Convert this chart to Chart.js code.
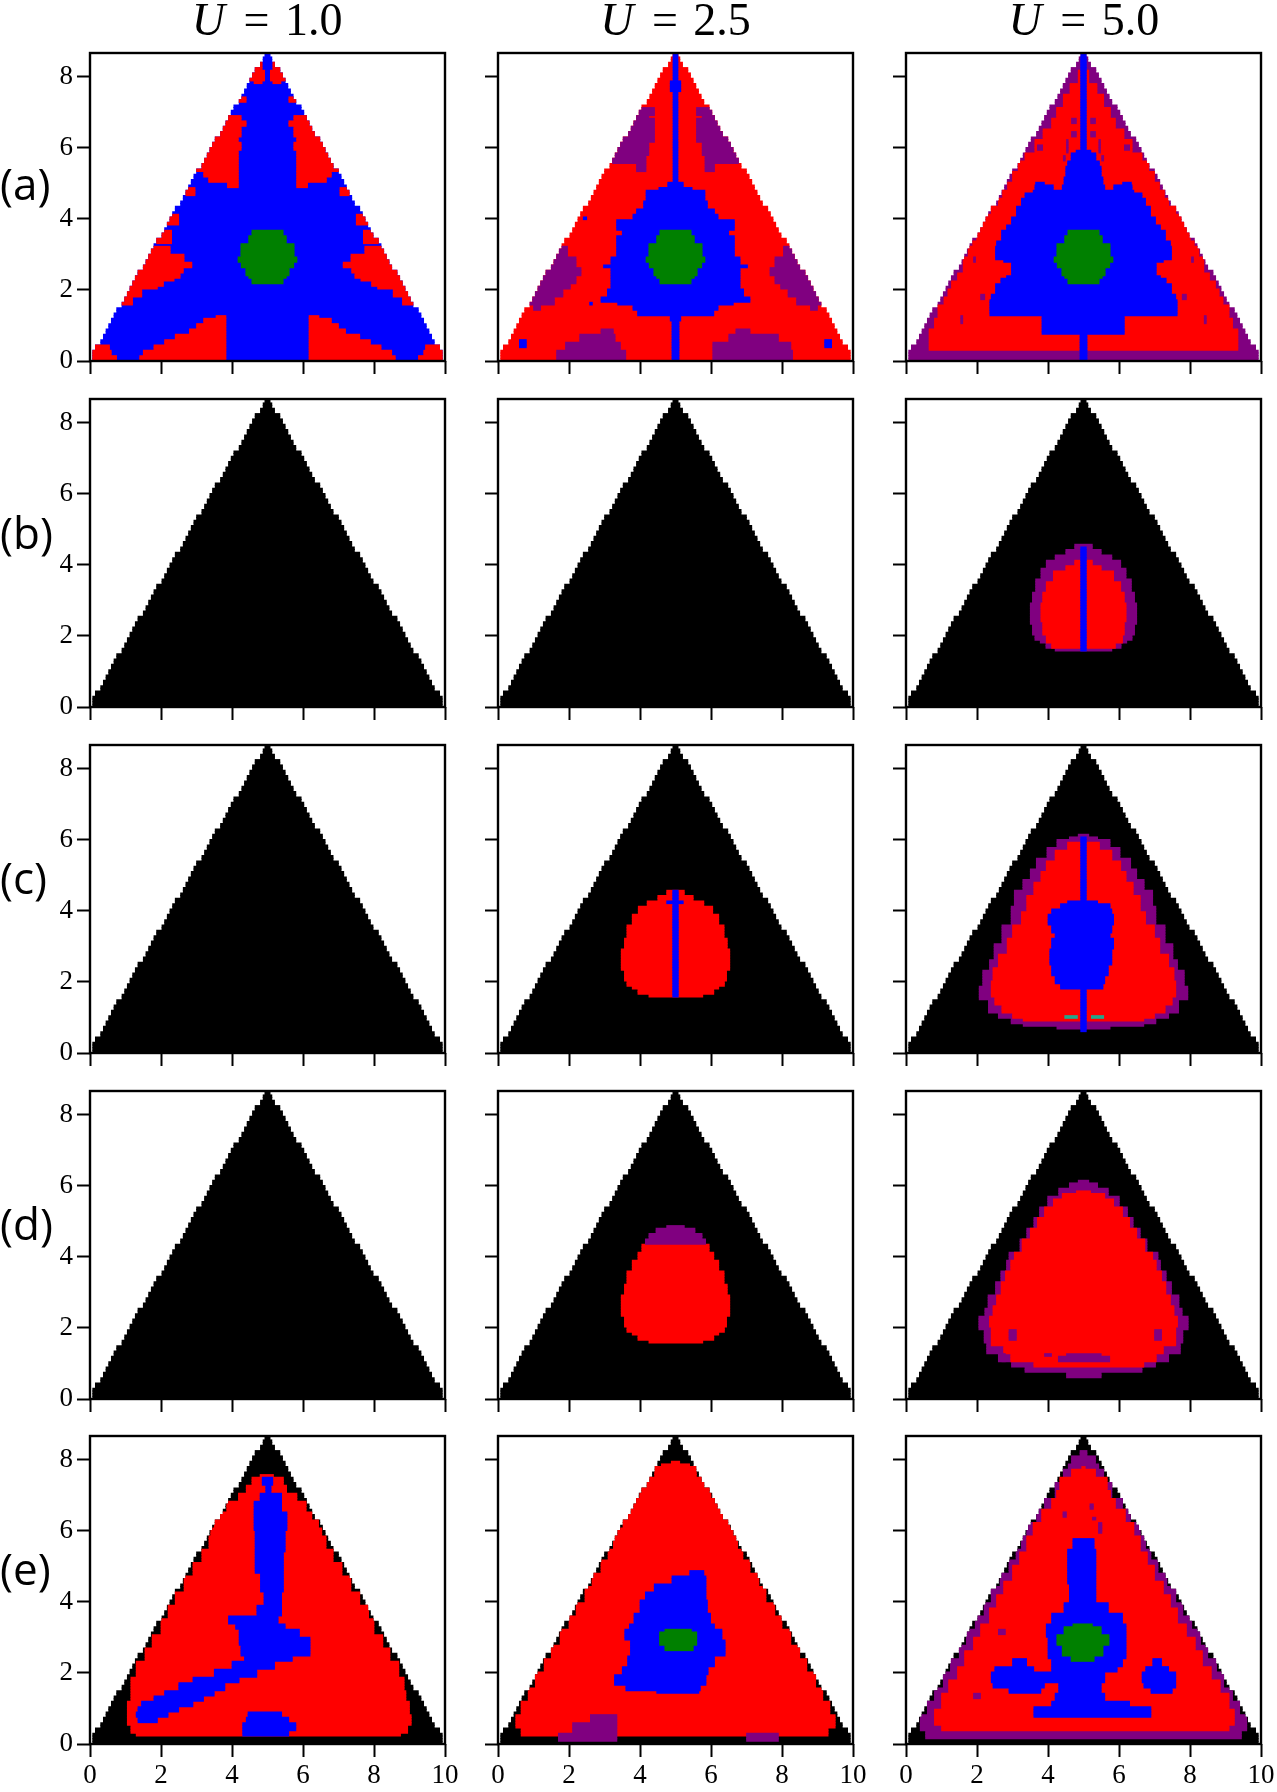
<!DOCTYPE html>
<html>
<head>
<meta charset="utf-8">
<title>Phase diagrams</title>
<script src="https://cdn.jsdelivr.net/npm/chart.js@4/dist/chart.umd.min.js"></script>
<style>
  body { margin: 0; background: #fff; width: 1277px; height: 1792px; position: relative; overflow: hidden; }
  canvas { position: absolute; }
  .title { position: absolute; top: -7px; width: 355px; text-align: center; font: 46px "Liberation Serif"; word-spacing: 4px; white-space: nowrap; }
  .title i { margin-right: 3px; }
  .row { position: absolute; left: 0; font: 44px "Open Sans"; line-height: 50px; }
</style>
</head>
<body>
<script>
/* Labels */
const columns = ["1.0", "2.5", "5.0"];
const rowNames = ["(a)", "(b)", "(c)", "(d)", "(e)"];
const xTicks = [0, 2, 4, 6, 8, 10];
const yTicks = [0, 2, 4, 6, 8];

/* left edge of the triangle for each 0.15 high row, right edge is 10 - left */
const triLeft = [
  0.075, 0.075, 0.15, 0.3, 0.375, 0.45, 0.525, 0.6, 0.675, 0.75, 0.9, 0.975, 1.05, 1.125, 1.2, 1.275,
  1.35, 1.5, 1.575, 1.65, 1.725, 1.8, 1.875, 2.025, 2.1, 2.175, 2.25, 2.325, 2.4, 2.55, 2.625, 2.7,
  2.775, 2.85, 2.925, 3.0, 3.15, 3.225, 3.3, 3.375, 3.45, 3.525, 3.675, 3.75, 3.825, 3.9, 3.975, 4.05,
  4.2, 4.275, 4.35, 4.425, 4.5, 4.575, 4.65, 4.8, 4.875, 4.925,
];

/* Regions: [y where the row starts, x0, x1, x0, x1, ...], a row holds until the next y */
const hexagon = [[2.21, 4.56, 5.44], [2.3, 4.47, 5.53], [2.38, 4.39, 5.61], [2.62, 4.26, 5.74], [2.76, 4.17, 5.83], [2.94, 4.25, 5.75], [3.27, 4.47, 5.53], [3.51, 4.56, 5.44], [3.65]];

const a1Red = [
  [0, 0, 0.75, 1.4, 3.83, 6.17, 8.6, 9.25, 10], [0.15, 0, 0.6, 1.5, 3.83, 6.17, 8.5, 9.4, 10], [0.3, 0, 0.55, 1.8, 3.83, 6.17, 8.2, 9.45, 10],
  [0.45, 2.1, 3.83, 6.17, 7.9], [0.6, 2.4, 3.83, 6.17, 7.6], [0.75, 2.8, 3.83, 6.17, 7.2], [0.88, 3.0, 3.83, 6.17, 7.0],
  [1.02, 3.2, 3.83, 6.17, 6.8], [1.2, 3.55, 3.83, 6.17, 6.45], [1.3],
  [1.58, 0, 1.2, 8.8, 10], [1.82, 0, 1.46, 8.54, 10], [1.99, 0, 1.9, 8.1, 10], [2.1, 0, 2.07, 7.93, 10], [2.24, 0, 2.37, 7.63, 10],
  [2.36, 0, 2.54, 7.46, 10], [2.48, 0, 2.63, 7.37, 10], [2.62, 0, 2.87, 7.13, 10], [2.74, 0, 2.65, 7.35, 10], [2.99, 0, 2.26, 7.74, 10],
  [3.23], [3.32, 0, 2.3, 7.7, 10], [3.65], [3.79, 0, 2.5, 7.5, 10], [4.16],
  [4.63, 0, 2.96, 7.04, 10], [4.91, 3.87, 4.18, 5.82, 6.13], [4.99, 3.65, 4.18, 5.82, 6.35], [5.05, 3.34, 4.18, 5.82, 6.66],
  [5.19, 3.2, 4.18, 5.82, 6.8], [5.34, 0, 4.18, 5.82, 10], [5.94, 0, 4.26, 5.74, 10], [6.18, 0, 4.18, 5.82, 10],
  [6.32, 0, 4.26, 5.74, 10], [6.62, 0, 4.4, 5.6, 10], [6.74, 0, 4.26, 5.74, 10], [6.93], [7.3, 0, 4.4, 5.6, 10], [7.44],
  [7.77, 4.62, 4.85, 5.15, 5.38], [7.91, 0, 4.92, 5.08, 10], [8.15, 0, 4.85, 5.15, 10], [8.43],
];

const a2Purple = [
  [0, 1.65, 3.6, 6.05, 8.3], [0.3, 1.9, 3.45, 6.05, 8.25], [0.55, 2.3, 3.3, 6.5, 7.9], [0.75, 2.9, 3.25, 6.7, 7.1], [0.93],
  [1.4, 1.0, 1.2, 8.8, 9.0], [1.54, 0, 1.59, 8.41, 10], [1.77, 0, 1.83, 8.17, 10], [2.0, 0, 2.04, 7.96, 10], [2.19, 0, 2.2, 7.8, 10],
  [2.38, 0, 2.34, 7.66, 10], [2.62, 0, 2.2, 7.8, 10], [2.94, 0, 1.96, 8.04, 10], [3.23],
  [5.33, 3.9, 4.17, 5.83, 6.1], [5.52, 0, 4.17, 5.83, 10], [5.8, 0, 4.25, 5.75, 10], [6.18, 0, 4.41, 5.59, 10],
  [6.85, 0, 4.25, 5.75, 10], [6.93, 0, 4.41, 5.59, 10], [7.16],
];
const a2Blue = [
  [0, 4.9, 5.1], [1.12, 4.85, 5.15], [1.3, 3.93, 6.08], [1.43, 3.8, 6.2], [1.58, 3.37, 6.63], [1.68, 2.9, 7.1], [1.82, 3.08, 6.92],
  [2.05, 3.18, 6.82], [2.6, 2.97, 7.03], [2.68, 3.18, 6.82], [2.94, 3.34, 6.66], [3.51, 3.5, 6.5], [3.65, 3.34, 6.66],
  [3.98, 3.8, 6.2], [4.16, 3.9, 6.1], [4.26, 4.1, 5.9], [4.49, 4.17, 5.83], [4.79, 4.53, 5.47], [4.91, 4.78, 5.22], [5.0, 4.93, 5.07],
  [7.61, 4.85, 5.15], [7.91, 4.93, 5.07],
];
const a2Dots = [[0.4, 0.6, 0.8, 9.2, 9.4], [0.6], [1.55, 2.58, 2.66], [1.63], [3.98, 2.4, 2.5], [4.03]];

const a3Red = [
  [0.28, 0.65, 9.35], [0.9, 0.8, 9.2], [1.2, 0.9, 9.1], [1.54, 1.07, 8.93], [1.8, 1.18, 8.82], [2.0, 1.28, 8.72], [2.25, 1.45, 8.55],
  [2.48, 1.61, 8.39], [2.94, 1.75, 8.25], [3.2, 1.88, 8.12], [3.41, 1.99, 8.01], [3.65, 2.1, 7.9], [3.88, 2.22, 7.78], [4.1, 2.4, 7.6],
  [4.35, 2.6, 7.4], [4.6, 2.72, 7.28], [4.82, 2.86, 7.14], [5.05, 3.0, 7.0], [5.29, 3.16, 6.84], [5.66, 3.35, 6.65], [5.85, 3.63, 6.37],
  [6.23, 3.86, 6.14], [6.51, 4.1, 5.9], [6.84, 4.24, 5.76], [7.16, 4.43, 5.57], [7.49, 4.62, 5.38], [7.82, 4.85, 5.15], [8.2],
];
const a3Specks = [
  [0.95, 1.07, 1.2, 2.2, 2.78, 7.22, 7.8, 8.8, 8.93], [1.0], [1.07, 1.54, 1.6, 8.4, 8.46], [1.26],
  [1.72, 2.1, 2.22, 7.78, 7.9], [1.91], [2.6, 1.7, 1.9, 8.1, 8.3], [2.66], [2.76, 1.9, 1.96, 8.04, 8.1], [2.94],
  [5.65, 4.43, 4.49, 5.51, 5.57], [5.76], [5.85, 4.52, 4.57, 5.43, 5.48], [5.9, 3.7, 3.85, 4.52, 4.57, 5.43, 5.48, 6.15, 6.3], [6.05, 4.52, 4.57, 5.43, 5.48], [6.2],
  [6.32, 4.66, 4.8, 5.2, 5.34], [6.46], [6.65, 4.66, 4.8, 5.2, 5.34], [6.79],
];
const a3Blue = [
  [0, 4.9, 5.1], [0.75, 3.83, 6.15], [1.3, 2.36, 7.64], [1.7, 2.4, 7.6], [1.91, 2.52, 7.48], [2.19, 2.67, 7.33], [2.29, 2.83, 7.17],
  [2.38, 2.97, 7.05], [2.76, 2.75, 7.25], [2.85, 2.52, 7.48], [3.23, 2.55, 7.45], [3.41, 2.69, 7.31], [3.65, 2.83, 7.17], [3.83, 2.97, 7.03],
  [4.07, 3.11, 6.89], [4.35, 3.25, 6.75], [4.59, 3.35, 6.65], [4.7, 3.58, 6.42], [4.82, 3.63, 4.15, 4.4, 5.6, 5.85, 6.37],
  [4.93, 3.65, 3.9, 4.45, 5.55, 6.1, 6.35], [5.03, 4.45, 5.55], [5.19, 4.5, 5.5], [5.47, 4.55, 5.45], [5.66, 4.65, 5.35], [5.85, 4.79, 5.21], [5.9, 4.92, 5.08],
];

const b3Purple = [
  [1.61, 4.2, 5.8], [1.68, 3.94, 6.06], [1.77, 3.78, 6.22], [1.91, 3.63, 6.37], [2.05, 3.56, 6.44], [2.29, 3.5, 6.5], [2.94, 3.56, 6.44],
  [3.23, 3.65, 6.35], [3.63, 3.8, 6.2], [3.88, 3.95, 6.05], [4.1, 4.2, 5.8], [4.3, 4.5, 5.5], [4.45, 4.75, 5.25], [4.57],
];
const b3Red = [
  [1.65, 4.1, 5.9], [1.8, 3.95, 6.1], [2.0, 3.85, 6.15], [2.4, 3.8, 6.2], [2.9, 3.85, 6.15], [3.2, 3.95, 6.05], [3.5, 4.15, 5.85], [3.8, 4.5, 5.5], [4.0, 4.75, 5.25], [4.15],
];
const b3Blue = [[1.6, 4.92, 5.08], [4.5]];

const c2Red = [
  [1.61, 4.25, 5.77], [1.68, 3.94, 6.08], [1.77, 3.78, 6.22], [1.91, 3.63, 6.38], [2.05, 3.56, 6.44], [2.29, 3.47, 6.53], [2.94, 3.56, 6.46],
  [3.23, 3.63, 6.37], [3.63, 3.78, 6.22], [3.88, 3.95, 6.05], [4.1, 4.2, 5.8], [4.3, 4.5, 5.5], [4.45, 4.75, 5.25], [4.58],
];
const c2Blue = [[1.6, 4.92, 5.08], [4.2, 4.75, 5.22], [4.3, 4.92, 5.08], [4.58]];

const c3Purple = [
  [0.67, 4.25, 5.75], [0.75, 3.3, 6.7], [0.85, 2.96, 7.04], [1.0, 2.6, 7.4], [1.16, 2.32, 7.68], [1.48, 2.06, 7.94], [1.9, 2.16, 7.84],
  [2.3, 2.35, 7.65], [2.6, 2.48, 7.52], [3.1, 2.7, 7.3], [3.57, 2.96, 7.04], [4.1, 3.05, 6.95], [4.54, 3.29, 6.71], [4.85, 3.5, 6.5],
  [5.15, 3.67, 6.33], [5.48, 3.97, 6.03], [5.75, 4.25, 5.75], [6.0, 4.6, 5.4], [6.1, 4.85, 5.15], [6.14],
];
const c3Red = [
  [0.9, 3.3, 6.7], [1.0, 3.0, 7.0], [1.15, 2.7, 7.3], [1.35, 2.5, 7.5], [1.6, 2.4, 7.6], [2.0, 2.45, 7.55], [2.4, 2.6, 7.4], [2.8, 2.85, 7.15],
  [3.2, 3.0, 7.0], [3.6, 3.25, 6.75], [4.0, 3.4, 6.6], [4.4, 3.6, 6.4], [4.8, 3.8, 6.2], [5.1, 3.95, 6.05], [5.4, 4.2, 5.8], [5.7, 4.55, 5.45], [5.9],
];
const c3Blue = [
  [0.6, 4.92, 5.08], [1.8, 4.35, 5.55], [1.96, 4.2, 5.6], [2.2, 4.1, 5.7], [2.44, 4.05, 5.8], [2.93, 4.1, 5.85], [3.2, 4.2, 5.75], [3.4, 4.1, 5.8],
  [3.6, 4.0, 5.85], [3.9, 4.1, 5.8], [4.05, 4.35, 5.75], [4.2, 4.55, 5.4], [4.3, 4.92, 5.08], [6.1],
];
const c3Teal = [[0.95, 4.47, 4.83, 5.22, 5.57], [1.02]];

const d2Red = [
  [1.61, 4.25, 5.77], [1.68, 3.94, 6.08], [1.77, 3.78, 6.22], [1.91, 3.63, 6.38], [2.05, 3.56, 6.44], [2.29, 3.47, 6.53], [2.52, 3.47, 6.67], [2.58, 3.47, 6.53],
  [2.94, 3.56, 6.46], [3.23, 3.63, 6.37], [3.63, 3.78, 6.22], [3.88, 3.94, 6.08], [4.16, 4.05, 5.95], [4.34],
];
const d2Purple = [[4.34, 4.15, 5.85], [4.5, 4.25, 5.75], [4.65, 4.45, 5.55], [4.8, 4.75, 5.25], [4.9]];

const d3Purple = [
  [0.6, 4.52, 5.5], [0.74, 3.35, 6.65], [0.88, 2.97, 7.03], [1.07, 2.6, 7.4], [1.26, 2.27, 7.73], [1.54, 2.2, 7.8], [1.96, 2.05, 7.95], [2.29, 2.22, 7.78],
  [2.57, 2.31, 7.69], [2.94, 2.52, 7.48], [3.32, 2.67, 7.33], [3.6, 2.83, 7.17], [3.88, 2.9, 7.1], [4.16, 3.21, 6.79], [4.5, 3.4, 6.6], [4.8, 3.6, 6.4],
  [5.09, 3.76, 6.24], [5.43, 3.99, 6.01], [5.7, 4.3, 5.7], [5.95, 4.6, 5.4], [6.1, 4.85, 5.15], [6.14],
];
const d3Red = [
  [0.93, 3.6, 6.7], [1.07, 2.95, 7.05], [1.26, 2.75, 7.25], [1.5, 2.4, 7.6], [2.0, 2.35, 7.65], [2.3, 2.45, 7.55], [2.6, 2.55, 7.45], [2.95, 2.68, 7.32],
  [3.3, 2.8, 7.2], [3.6, 2.95, 7.05], [3.9, 3.05, 6.95], [4.15, 3.27, 6.73], [4.5, 3.5, 6.5], [4.8, 3.7, 6.3], [5.1, 3.9, 6.1], [5.4, 4.15, 5.85], [5.65, 4.4, 5.6], [5.8, 4.8, 5.2], [5.85],
];
const d3Spots = [[1.02, 2.7, 2.8], [1.07, 2.7, 2.8, 4.29, 5.74], [1.21, 2.7, 2.8, 3.9, 4.1, 4.52, 5.5], [1.3], [1.68, 2.9, 3.11, 7.0, 7.2], [1.96]];

const e1Red = [
  [0.2, 1.3, 8.75], [0.3, 1.15, 8.95], [0.5, 1.05, 9.05], [0.85, 1.05, 9.0], [1.2, 1.15, 8.9], [1.5, 1.15, 8.85], [1.9, 1.3, 8.7], [2.3, 1.55, 8.45],
  [2.7, 1.75, 8.25], [3.1, 2.0, 8.0], [3.5, 2.2, 7.85], [3.9, 2.4, 7.6], [4.3, 2.65, 7.35], [4.7, 2.9, 7.1], [5.1, 3.15, 6.85], [5.5, 3.35, 6.65],
  [5.83, 3.4, 6.53], [6.07, 3.5, 6.44], [6.3, 3.65, 6.25], [6.53, 3.85, 6.09], [6.86, 4.18, 5.83], [7.05, 4.4, 5.54], [7.3, 4.56, 5.45], [7.47, 4.79, 5.17], [7.6],
];
const e1Blue = [
  [0.25, 4.3, 5.6], [0.4, 4.3, 5.8], [0.6, 1.35, 1.9, 4.4, 5.6], [0.75, 1.3, 2.2, 4.45, 5.4], [0.9, 1.35, 2.5], [1.05, 1.45, 2.9], [1.2, 1.8, 3.2], [1.35, 2.1, 3.5], [1.5, 2.5, 3.8], [1.7, 2.9, 4.2],
  [1.9, 3.5, 4.7], [2.1, 4.0, 5.2], [2.3, 4.35, 5.7], [2.5, 4.25, 6.2], [2.8, 4.2, 6.2], [3.0, 4.2, 5.9], [3.2, 4.1, 5.5], [3.4, 3.9, 5.3], [3.6, 4.7, 5.4], [3.9, 4.9, 5.4],
  [4.3, 4.8, 5.45], [4.8, 4.65, 5.45], [5.4, 4.65, 5.5], [6.0, 4.62, 5.55], [6.53, 4.62, 5.4], [6.86, 4.79, 5.4], [7.05, 4.95, 5.1], [7.25, 4.85, 5.15], [7.5],
];

const e2Red = [
  [0.25, 0.65, 9.3], [0.45, 0.5, 9.5], [0.8, 0.65, 9.35], [1.2, 0.85, 9.15], [1.6, 1.05, 8.95], [2.0, 1.3, 8.7], [2.4, 1.5, 8.5], [2.8, 1.75, 8.25],
  [3.2, 2.0, 8.0], [3.6, 2.2, 7.8], [4.0, 2.45, 7.55], [4.4, 2.65, 7.35], [4.8, 2.9, 7.1], [5.2, 3.1, 6.9], [5.5, 3.25, 6.75], [5.83, 3.33, 6.62],
  [6.11, 3.52, 6.53], [6.49, 3.71, 6.29], [6.9, 3.99, 6.0], [7.33, 4.27, 5.77], [7.52, 4.41, 5.59], [7.8, 4.6, 5.4], [7.9, 4.88, 5.12], [7.98],
];
const e2Purple = [[0.1, 1.7, 3.35, 7.0, 7.9], [0.3, 2.1, 3.35], [0.6, 2.6, 3.35], [0.85]];
const e2Blue = [
  [1.4, 4.47, 5.66], [1.5, 3.6, 5.7], [1.64, 3.28, 5.86], [1.96, 3.5, 5.92], [2.2, 3.65, 6.1], [2.44, 3.73, 6.4], [2.93, 3.57, 6.31], [3.2, 3.7, 6.1], [3.41, 3.83, 5.99], [3.7, 4.0, 5.9],
  [4.05, 4.15, 5.86], [4.3, 4.4, 5.86], [4.53, 4.9, 5.86], [4.75, 5.4, 5.8], [4.85],
];
const e2Green = [[2.6, 4.7, 5.5], [2.75, 4.55, 5.6], [3.15, 4.7, 5.45], [3.25]];

const e3Purple = [
  [0.15, 0.55, 9.45], [0.4, 0.4, 9.6], [0.8, 0.6, 9.4], [1.2, 0.8, 9.2], [1.6, 1.05, 8.95], [2, 1.25, 8.75], [2.4, 1.5, 8.5], [2.8, 1.7, 8.3], [3.2, 1.95, 8.05],
  [3.6, 2.2, 7.8], [4, 2.4, 7.6], [4.4, 2.65, 7.35], [4.8, 2.9, 7.1], [5.2, 3.1, 6.9], [5.5, 3.25, 6.75], [5.83, 3.4, 6.6], [6.2, 3.68, 6.32], [6.58, 3.9, 6.1],
  [6.9, 4.2, 5.8], [7.33, 4.43, 5.57], [7.7, 4.57, 5.43], [7.9, 4.66, 5.34], [8.13, 4.9, 5.1], [8.25],
];
const e3Red = [
  [0.4, 1.0, 9.1], [0.55, 0.8, 9.25], [1.0, 1.0, 9.1], [1.4, 1.2, 8.85], [1.8, 1.45, 8.6], [2.2, 1.65, 8.35], [2.6, 1.9, 8.15], [3, 2.1, 7.9], [3.4, 2.35, 7.65],
  [3.8, 2.55, 7.45], [4.2, 2.75, 7.25], [4.6, 3.0, 7.0], [5, 3.2, 6.8], [5.4, 3.4, 6.6], [5.83, 3.58, 6.42], [6.2, 3.82, 6.18], [6.58, 4.1, 5.9], [6.9, 4.24, 5.76],
  [7.14, 4.33, 5.67], [7.52, 4.66, 5.34], [7.7, 4.95, 5.05], [7.78],
];
const e3Specks = [[1.3, 1.9, 2.1], [1.4], [3.1, 2.6, 2.8], [3.2], [5.93, 5.42, 5.52], [6.2], [6.28, 5.25, 5.35], [6.34], [6.4, 4.42, 4.52], [6.5], [6.6, 5.18, 5.28], [6.72]];
const e3Blue = [
  [0.75, 3.6, 6.9], [1.05, 4.1, 6.3], [1.2, 4.2, 5.6], [1.4, 2.9, 3.8, 4.3, 5.5, 6.9, 7.5], [1.55, 2.45, 3.9, 4.3, 5.5, 6.7, 7.6], [1.75, 2.4, 5.6, 6.65, 7.6],
  [2.0, 2.5, 3.6, 4.1, 5.95, 6.75, 7.4], [2.2, 3.0, 3.4, 4.1, 6.1, 6.95, 7.2], [2.4, 4.0, 6.2], [3.0, 3.95, 6.2], [3.4, 4.1, 6.1], [3.7, 4.45, 5.7], [4.0, 4.6, 5.35],
  [4.5, 4.55, 5.35], [5.5, 4.7, 5.3], [5.8],
];
const e3Green = [[2.35, 4.65, 5.3], [2.5, 4.4, 5.55], [2.75, 4.25, 5.72], [3.1, 4.45, 5.5], [3.3, 4.7, 5.25], [3.4]];

const colors = { black: "#000000", red: "#ff0000", blue: "#0000ff", green: "#008000", purple: "#800080", teal: "#22a88c" };

/* base colour of the triangle, then the regions painted over it */
const panels = [
  ["blue", ["red", a1Red], ["green", hexagon]],
  ["red", ["purple", a2Purple], ["blue", a2Blue], ["blue", a2Dots], ["green", hexagon]],
  ["purple", ["red", a3Red], ["purple", a3Specks], ["blue", a3Blue], ["green", hexagon]],
  ["black"],
  ["black"],
  ["black", ["purple", b3Purple], ["red", b3Red], ["blue", b3Blue]],
  ["black"],
  ["black", ["red", c2Red], ["blue", c2Blue]],
  ["black", ["purple", c3Purple], ["red", c3Red], ["blue", c3Blue], ["teal", c3Teal]],
  ["black"],
  ["black", ["red", d2Red], ["purple", d2Purple]],
  ["black", ["purple", d3Purple], ["red", d3Red], ["purple", d3Spots]],
  ["black", ["red", e1Red], ["blue", e1Blue]],
  ["black", ["red", e2Red], ["purple", e2Purple], ["blue", e2Blue], ["green", e2Green]],
  ["black", ["purple", e3Purple], ["red", e3Red], ["purple", e3Specks], ["blue", e3Blue], ["green", e3Green]],
];

/* Layout */
const colLeft = [89.7, 498, 906.3];
const rowTop = [53.3, 399, 744.8, 1090.5, 1436.3];
const plotW = 355;
const plotH = 308;
/* top and right margins leave room for half a tick label, or the plot area shrinks */
const mLeft = 70, mTop = 24, mRight = 20, mBottom = 44;
const rowStep = 0.075, rowCount = 115, yMax = 8.66;

function triEdge(y) {
  return triLeft[Math.min(Math.floor(y / 0.15), triLeft.length - 1)];
}

/* turn region rows into floating horizontal bars, cut to the triangle */
function toBars(rows) {
  const bars = [];
  for (let k = 0; k < rowCount; k++) {
    const y = (k + 0.5) * rowStep;
    let row = null;
    for (const r of rows) if (r[0] <= y) row = r;
    if (!row) continue;
    const left = triEdge(y);
    for (let i = 1; i + 1 < row.length; i += 2) {
      const x0 = Math.max(row[i], left);
      const x1 = Math.min(row[i + 1], 10 - left);
      if (x1 > x0) bars.push({ x: [x0, x1], y: y });
    }
  }
  return bars;
}

const boxPlugin = {
  id: "box",
  afterDraw(chart) {
    const { ctx, chartArea: a } = chart;
    ctx.save();
    ctx.strokeStyle = "#000";
    ctx.lineWidth = 2.4;
    ctx.strokeRect(a.left, a.top, a.right - a.left, a.bottom - a.top);
    ctx.restore();
  },
};

panels.forEach((panel, n) => {
  const row = Math.floor(n / 3);
  const col = n % 3;
  const canvas = document.createElement("canvas");
  canvas.width = plotW + mLeft + mRight;
  canvas.height = plotH + mTop + mBottom;
  canvas.style.left = colLeft[col] - mLeft + "px";
  canvas.style.top = rowTop[row] - mTop + "px";
  document.body.appendChild(canvas);

  const layers = [[panel[0], [[0, 0, 10]]]].concat(panel.slice(1));
  new Chart(canvas, {
    type: "bar",
    plugins: [boxPlugin],
    data: {
      /* Chart.js paints the first dataset last, so the base goes at the end */
      datasets: layers.map(([color, rows]) => ({
        data: toBars(rows),
        backgroundColor: colors[color],
        borderWidth: 0,
        barThickness: 3,
        grouped: false,
      })).reverse(),
    },
    options: {
      indexAxis: "y",
      responsive: false,
      animation: false,
      devicePixelRatio: 1,
      layout: { padding: { top: mTop, right: mRight } },
      plugins: { legend: { display: false }, tooltip: { enabled: false } },
      scales: {
        x: {
          type: "linear",
          min: 0,
          max: 10,
          afterFit: (s) => { s.height = mBottom; },
          afterBuildTicks: (s) => { s.ticks = xTicks.map((v) => ({ value: v })); },
          grid: { drawOnChartArea: false, tickLength: 13, tickWidth: 2, tickColor: "#000" },
          border: { display: false },
          ticks: {
            display: row === 4,
            maxRotation: 0,
            autoSkip: false,
            padding: 3,
            color: "#000",
            font: { family: "Liberation Serif", size: 27 },
          },
        },
        y: {
          type: "linear",
          min: 0,
          max: yMax,
          offset: false,
          afterFit: (s) => { s.width = mLeft; },
          afterBuildTicks: (s) => { s.ticks = yTicks.map((v) => ({ value: v })); },
          grid: { offset: false, drawOnChartArea: false, tickLength: 13, tickWidth: 2, tickColor: "#000" },
          border: { display: false },
          ticks: {
            display: col === 0,
            autoSkip: false,
            padding: 4,
            color: "#000",
            font: { family: "Liberation Serif", size: 27 },
          },
        },
      },
    },
  });
});

/* Column titles and row names */
columns.forEach((u, i) => {
  const t = document.createElement("div");
  t.className = "title";
  t.style.left = colLeft[i] + "px";
  t.innerHTML = "<i>U</i> = " + u;
  document.body.appendChild(t);
});
const rowCentre = [183, 532, 877, 1223, 1568];
rowNames.forEach((name, i) => {
  const t = document.createElement("div");
  t.className = "row";
  t.style.top = rowCentre[i] - 25 + "px";
  t.textContent = name;
  document.body.appendChild(t);
});
</script>
</body>
</html>
